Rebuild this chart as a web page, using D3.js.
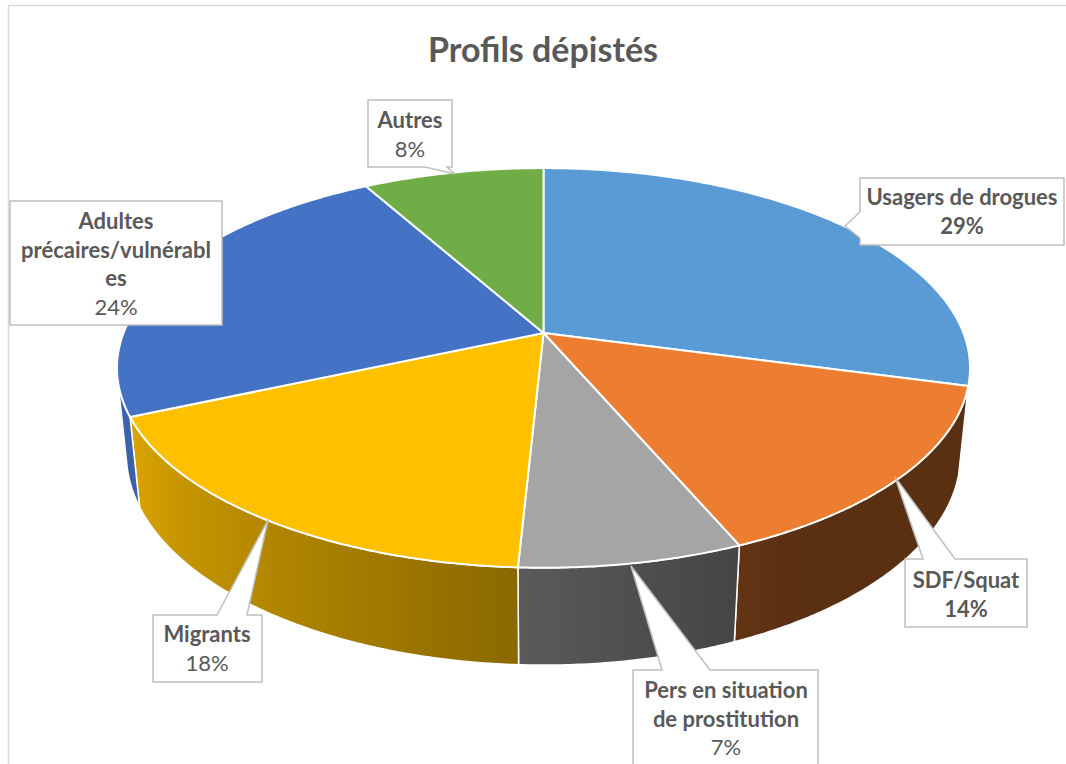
<!DOCTYPE html>
<html>
<head>
<meta charset="utf-8">
<script src="https://cdn.jsdelivr.net/npm/d3@7"></script>
<style>
  body { margin: 0; background: #fff; }
  svg { display: block; font-family: Lato, "Open Sans", sans-serif; }
</style>
</head>
<body>
<script>
// slice data, clockwise from the back of the pie
var categories = ['Usagers de drogues', 'SDF/Squat', 'Pers en situation de prostitution', 'Migrants', 'Adultes précaires/vulnérables', 'Autres'];
var values = [29.2, 14.4, 7.2, 17.6, 23.5, 8.1];
var colors = ['#5B9BD5', '#ED7D31', '#A5A5A5', '#FFC000', '#4472C4', '#70AD47'];
// label text as wrapped in the chart
var labelLines = [['Usagers de drogues'], ['SDF/Squat'], ['Pers en situation', 'de prostitution'], ['Migrants'], ['Adultes', 'précaires/vulnérabl', 'es'], ['Autres']];
var pctBold = [true, true, false, false, false, false];

var width = 1066, height = 764;

// 3d view settings
var cx = 543.5, cy = 333;
var fx = 2125, fy = 2099;
var D = 5.06;
var tilt = Math.asin(0.467);
var sT = Math.sin(tilt), cT = Math.cos(tilt);
var depth = 0.239;

function project(a, y) {
  var x = Math.sin(a), z = Math.cos(a);
  var yc = y * cT + z * sT;
  var d = D + z * cT - y * sT;
  return [cx + fx * x / d, cy - fy * yc / d];
}

var svg = d3.select('body').append('svg')
  .attr('width', width)
  .attr('height', height);

var defs = svg.append('defs');

// chart border
svg.append('rect')
  .attr('x', 8.5).attr('y', 5.5)
  .attr('width', 1080).attr('height', 800)
  .attr('fill', 'none')
  .attr('stroke', '#d9d9d9')
  .attr('stroke-width', 1.5);

svg.append('text')
  .attr('x', 543).attr('y', 62)
  .attr('text-anchor', 'middle')
  .attr('font-size', 34)
  .attr('font-weight', 'bold')
  .attr('fill', '#595959')
  .text('Profils dépistés');

var total = d3.sum(values);
var pie = d3.pie().sort(null).value(function (d) { return d; });
var arcs = pie(values);

var step = Math.PI / 360;
function arcPoints(a0, a1, y) {
  var pts = [];
  var n = Math.max(2, Math.ceil((a1 - a0) / step));
  for (var i = 0; i <= n; i++) pts.push(project(a0 + (a1 - a0) * i / n, y));
  return pts;
}

// visible part of the outer wall
var aMin = Math.acos(-1 / (D * cT));
var aMax = 2 * Math.PI - aMin;

function shade(a) {
  var deg = a * 180 / Math.PI;
  var t = Math.max(0, Math.min(1, (deg - 150) / 100));
  return 0.38 + 0.5 * t;
}

var line = d3.line();

var walls = svg.append('g');
arcs.forEach(function (d, i) {
  var a0 = Math.max(d.startAngle, aMin), a1 = Math.min(d.endAngle, aMax);
  if (a1 <= a0) return;
  var top = arcPoints(a0, a1, 0);
  var bottom = arcPoints(a0, a1, -depth).reverse();
  var pRight = project(a0, 0), pLeft = project(a1, 0);
  var grad = defs.append('linearGradient')
    .attr('id', 'wall' + i)
    .attr('gradientUnits', 'userSpaceOnUse')
    .attr('x1', pRight[0]).attr('x2', pLeft[0])
    .attr('y1', 0).attr('y2', 0);
  var base = d3.rgb(colors[i]);
  d3.range(0, 1.0001, 0.1).forEach(function (t) {
    var a = a0 + (a1 - a0) * t;
    var k = shade(a);
    var px = project(a, 0)[0];
    grad.append('stop')
      .attr('offset', (px - pRight[0]) / (pLeft[0] - pRight[0]))
      .attr('stop-color', d3.rgb(base.r * k, base.g * k, base.b * k));
  });
  walls.append('path')
    .attr('d', line(top.concat(bottom)) + 'Z')
    .attr('fill', 'url(#wall' + i + ')')
    .attr('stroke', '#fff')
    .attr('stroke-width', 1.5)
    .attr('stroke-linejoin', 'round');
});

var tops = svg.append('g');
arcs.forEach(function (d, i) {
  var pts = [[cx, cy]].concat(arcPoints(d.startAngle, d.endAngle, 0));
  tops.append('path')
    .attr('d', line(pts) + 'Z')
    .attr('fill', colors[i])
    .attr('stroke', '#fff')
    .attr('stroke-width', 2)
    .attr('stroke-linejoin', 'round');
});

// callout boxes: box, tail side, tail base, tail tip, text centre and first baseline
var callouts = [
  { x: 860, y: 178, w: 204, h: 67, side: 'left', b0: 212, b1: 238, tip: [845, 226], tx: 962, ty: 205 },
  { x: 905, y: 559, w: 122, h: 68, side: 'top', b0: 923, b1: 955, tip: [895, 477], tx: 966, ty: 588 },
  { x: 633, y: 670, w: 185, h: 110, side: 'top', b0: 662, b1: 710, tip: [631, 566], tx: 726, ty: 698 },
  { x: 153, y: 615, w: 109, h: 67, side: 'top', b0: 217, b1: 247, tip: [268, 520], tx: 207, ty: 642 },
  { x: 10, y: 201, w: 212, h: 124, side: null, tx: 116, ty: 229 },
  { x: 368, y: 100, w: 84, h: 67, side: 'bottom', b0: 425, b1: 447, tip: [455, 174], tx: 410, ty: 128 }
];

function calloutPath(c) {
  var p = d3.path();
  var x0 = c.x, y0 = c.y, x1 = c.x + c.w, y1 = c.y + c.h;
  p.moveTo(x0, y0);
  if (c.side === 'top') { p.lineTo(c.b0, y0); p.lineTo(c.tip[0], c.tip[1]); p.lineTo(c.b1, y0); }
  p.lineTo(x1, y0);
  p.lineTo(x1, y1);
  if (c.side === 'bottom') { p.lineTo(c.b1, y1); p.lineTo(c.tip[0], c.tip[1]); p.lineTo(c.b0, y1); }
  p.lineTo(x0, y1);
  if (c.side === 'left') { p.lineTo(x0, c.b1); p.lineTo(c.tip[0], c.tip[1]); p.lineTo(x0, c.b0); }
  p.closePath();
  return p.toString();
}

var labels = svg.append('g');
callouts.forEach(function (c, i) {
  labels.append('path')
    .attr('d', calloutPath(c))
    .attr('fill', '#fff')
    .attr('stroke', '#bfbfbf')
    .attr('stroke-width', 1.5);
  var t = labels.append('text')
    .attr('text-anchor', 'middle')
    .attr('font-size', 22)
    .attr('fill', '#595959');
  var lines = labelLines[i];
  lines.forEach(function (s, j) {
    t.append('tspan')
      .attr('x', c.tx).attr('y', c.ty + j * 28.7)
      .attr('font-weight', 'bold')
      .text(s);
  });
  t.append('tspan')
    .attr('x', c.tx).attr('y', c.ty + lines.length * 28.7)
    .attr('font-weight', pctBold[i] ? 'bold' : 'normal')
    .text(Math.round(values[i] / total * 100) + '%');
});
</script>
</body>
</html>
